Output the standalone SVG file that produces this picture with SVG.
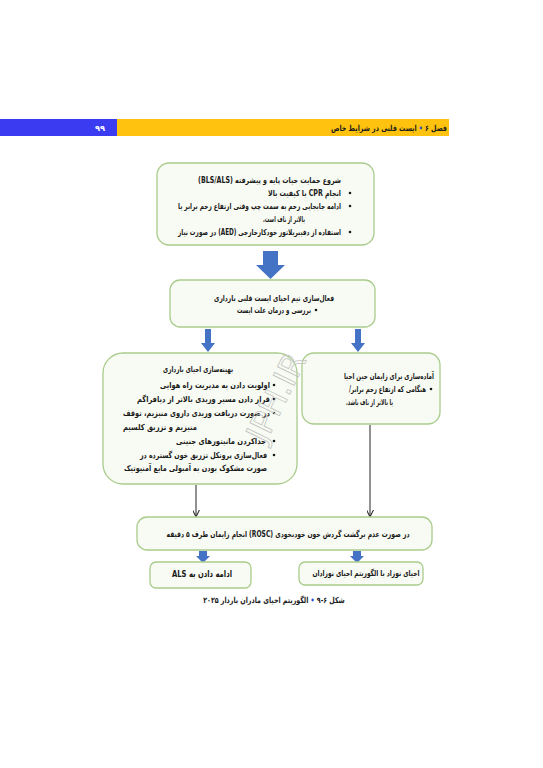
<svg xmlns="http://www.w3.org/2000/svg" width="543" height="768" viewBox="0 0 543 768">
<style>
.t{font-family:"DejaVu Sans",sans-serif;font-size:8.3px;font-weight:bold;fill:#1a1a1a;direction:rtl;unicode-bidi:embed}
.r{text-anchor:start}
.c{text-anchor:middle}
.box{fill:#f8fbf3;stroke:#a9cc8c;stroke-width:1.3}
.ba{fill:#4472c4}
.bul{fill:#1a1a1a}
.ln{stroke:#222;stroke-width:1;fill:none}
</style>
<defs>
<marker id="ah" viewBox="0 0 8 8" refX="7" refY="4" markerWidth="7" markerHeight="7" orient="auto" markerUnits="userSpaceOnUse">
<path d="M0,0 L8,4 L0,8" fill="none" stroke="#222" stroke-width="1.2"/>
</marker>
</defs>
<rect width="543" height="768" fill="#fff"/>
<g id="header">
<rect x="0" y="119" width="117" height="17" fill="#3b3bf2"/>
<rect x="117" y="119" width="332" height="17" fill="#ffc20e"/>
<text x="100" y="131" class="t c" style="fill:#fff">۹۹</text>
<text x="0" y="0" transform="translate(447,131) scale(0.76,1)" class="t r">فصل ۶ <tspan style="fill:#2a4bd0">•</tspan> ایست قلبی در شرایط خاص</text>
</g>
<g id="connectors">
<polygon class="ba" points="263,251 278,251 278,265 285,265 270.5,279 256,265 263,265"/>
<polygon class="ba" points="205,329 211,329 211,343 215,343 208,352 201,343 205,343"/>
<polygon class="ba" points="355,329 361,329 361,343 365,343 358,352 351,343 355,343"/>
<line class="ln" x1="196" y1="485" x2="196" y2="516" marker-end="url(#ah)"/>
<line class="ln" x1="370" y1="425" x2="370" y2="516" marker-end="url(#ah)"/>
<polygon class="ba" points="199,551 207,551 207,556 210,556 203,563 196,556 199,556"/>
<polygon class="ba" points="353,551 361,551 361,556 364,556 357,563 350,556 353,556"/>
</g>
<g id="n1">
<rect class="box" x="157" y="163" width="217" height="82" rx="12"/>
<text x="341" y="183" class="t r" textLength="143" lengthAdjust="spacingAndGlyphs">شروع حمایت حیات پایه و پیشرفته (BLS/ALS)</text>
<circle class="bul" cx="350" cy="193" r="1.3"/>
<text x="341" y="196" class="t r" textLength="73" lengthAdjust="spacingAndGlyphs">انجام CPR با کیفیت بالا</text>
<circle class="bul" cx="350" cy="206" r="1.3"/>
<text x="341" y="209" class="t r" textLength="163" lengthAdjust="spacingAndGlyphs">ادامه جابجایی رحم به سمت چپ وقتی ارتفاع رحم برابر یا</text>
<text x="305" y="222" class="t r" textLength="42" lengthAdjust="spacingAndGlyphs">بالاتر از ناف است.</text>
<circle class="bul" cx="350" cy="232" r="1.3"/>
<text x="341" y="235" class="t r" textLength="163" lengthAdjust="spacingAndGlyphs">استفاده از دفیبریلاتور خودکارخارجی (AED) در صورت نیاز</text>
</g>
<g id="n2">
<rect class="box" x="170" y="280" width="205" height="47" rx="10"/>
<text x="334" y="301" class="t r" textLength="120" lengthAdjust="spacingAndGlyphs">فعال‌سازی تیم احیای ایست قلبی بارداری</text>
<circle class="bul" cx="316" cy="310" r="1.3"/>
<text x="311" y="313" class="t r" textLength="74" lengthAdjust="spacingAndGlyphs">بررسی و درمان علت ایست</text>
</g>
<g id="n3">
<rect class="box" x="103" y="353" width="194" height="131" rx="20"/>
<text x="233" y="372" class="t r" textLength="70" lengthAdjust="spacingAndGlyphs">بهینه‌سازی احیای بارداری</text>
<circle class="bul" cx="274" cy="385" r="1.3"/>
<text x="270" y="388" class="t r" textLength="110" lengthAdjust="spacingAndGlyphs">اولویت دادن به مدیریت راه هوایی</text>
<circle class="bul" cx="274" cy="399" r="1.3"/>
<text x="270" y="402" class="t r" textLength="133" lengthAdjust="spacingAndGlyphs">قرار دادن مسیر وریدی بالاتر از دیافراگم</text>
<circle class="bul" cx="274" cy="413" r="1.3"/>
<text x="270" y="416" class="t r" textLength="147" lengthAdjust="spacingAndGlyphs">در صورت دریافت وریدی داروی منیزیم، توقف</text>
<text x="197" y="430" class="t r" textLength="74" lengthAdjust="spacingAndGlyphs">منیزیم و تزریق کلسیم</text>
<circle class="bul" cx="274" cy="441" r="1.3"/>
<text x="266" y="444" class="t r" textLength="90" lengthAdjust="spacingAndGlyphs">جداکردن مانیتورهای جنینی</text>
<circle class="bul" cx="274" cy="455" r="1.3"/>
<text x="267" y="458" class="t r" textLength="127" lengthAdjust="spacingAndGlyphs">فعال‌سازی پروتکل تزریق خون گسترده در</text>
<text x="267" y="471" class="t r" textLength="143" lengthAdjust="spacingAndGlyphs">صورت مشکوک بودن به آمبولی مایع آمنیوتیک</text>
</g>
<g id="n4">
<rect class="box" x="302" y="353" width="138" height="71" rx="12"/>
<text x="434" y="379" class="t r" textLength="90" lengthAdjust="spacingAndGlyphs">آماده‌سازی برای زایمان حین احیا</text>
<circle class="bul" cx="431" cy="389" r="1.3"/>
<text x="426" y="392" class="t r" textLength="77" lengthAdjust="spacingAndGlyphs">هنگامی که ارتفاع رحم برابر/</text>
<text x="393" y="405" class="t r" textLength="47" lengthAdjust="spacingAndGlyphs">یا بالاتر از ناف باشد.</text>
</g>
<g id="n5">
<rect class="box" x="137" y="517" width="295" height="33" rx="10"/>
<text x="288" y="537" class="t c" textLength="243" lengthAdjust="spacingAndGlyphs">در صورت عدم برگشت گردش خون خودبخودی (ROSC) انجام زایمان طرف ۵ دقیقه</text>
</g>
<g id="n6">
<rect class="box" x="150" y="562" width="101" height="26" rx="6"/>
<text x="202" y="577" class="t c" style="font-size:9.5px" textLength="60" lengthAdjust="spacingAndGlyphs">ادامه دادن به ALS</text>
</g>
<g id="n7">
<rect class="box" x="299" y="562" width="124" height="23" rx="6"/>
<text x="366" y="576" class="t c" textLength="107" lengthAdjust="spacingAndGlyphs">احیای نوزاد با الگوریتم احیای نوزادان</text>
</g>
<g id="caption">
<text x="0" y="0" transform="translate(274,603) scale(0.76,1)" class="t c">شکل ۶-۹ <tspan style="fill:#2a4bd0">•</tspan> الگوریتم احیای مادران باردار ۲۰۲۵</text>
</g>
<g id="watermark">
<text x="0" y="0" transform="translate(286,402) rotate(-64)" style="font-family:'DejaVu Sans',sans-serif;font-size:32px;fill:none;stroke:#c4c4c4;stroke-width:0.8;text-anchor:middle">JPH.IR</text>
</g>
</svg>
